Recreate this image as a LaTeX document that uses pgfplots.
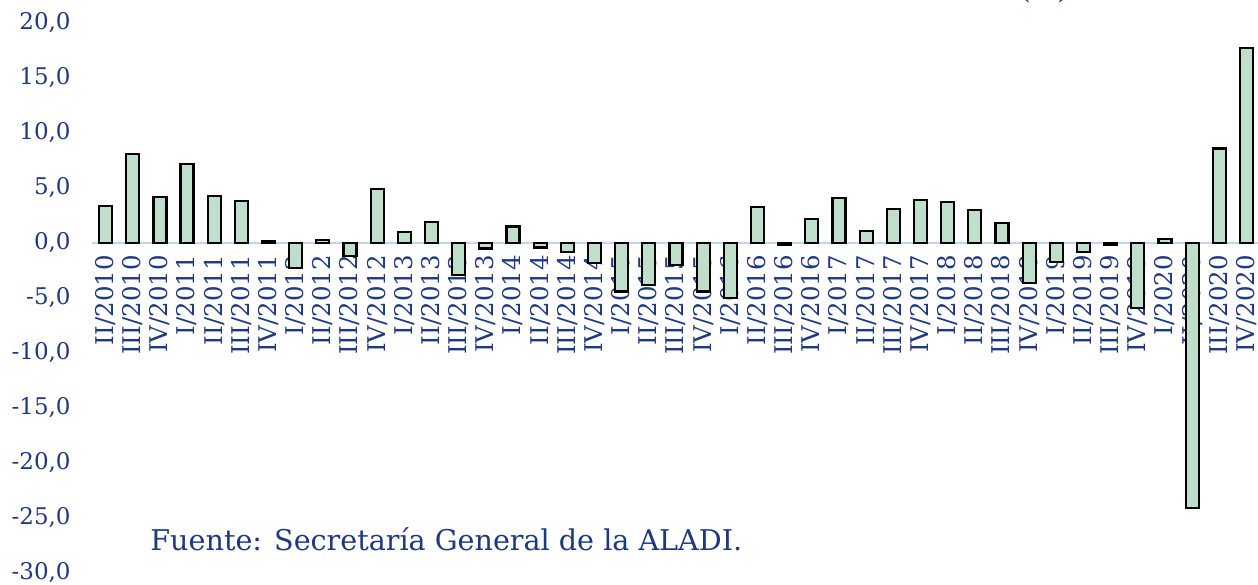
\documentclass[border=0pt]{standalone}
\usepackage{fontspec}
\setmainfont{DejaVu Serif}
\usepackage{pgfplots}
\pgfplotsset{compat=1.18}
\definecolor{navy}{RGB}{31,56,130}
\definecolor{barfill}{RGB}{192,222,204}
\definecolor{zeroline}{RGB}{196,212,243}
\pgfplotstableread{
x y
0 3.4
1 8.1
2 4.2
3 7.2
4 4.3
5 3.8
6 0.2
7 -2.3
8 0.3
9 -1.2
10 4.9
11 1.0
12 1.9
13 -2.9
14 -0.5
15 1.5
16 -0.4
17 -0.8
18 -1.8
19 -4.4
20 -3.8
21 -2.0
22 -4.4
23 -5.0
24 3.3
25 -0.2
26 2.2
27 4.1
28 1.1
29 3.1
30 3.9
31 3.7
32 3.0
33 1.8
34 -3.6
35 -1.7
36 -0.8
37 -0.2
38 -5.9
39 0.4
40 -24.1
41 8.6
42 17.7
}\datatable
\begin{document}
\begin{tikzpicture}
\path[use as bounding box] (-46pt,-5.5pt) rectangle (583pt,286.5pt);
\begin{axis}[
  at={(0,0)}, anchor=south west,
  scale only axis, width=584pt, height=275pt,
  xmin=-0.5, xmax=42.5, ymin=-30, ymax=20,
  axis x line=middle, axis y line=left,
  hide obscured x ticks=false, hide obscured y ticks=false,
  x axis line style={-, draw=zeroline, line width=1pt},
  y axis line style={draw=none},
  ytick={-30,-25,...,20},
  xtick=data,
  xticklabels={II/2010,III/2010,IV/2010,I/2011,II/2011,III/2011,IV/2011,I/2012,II/2012,III/2012,IV/2012,I/2013,II/2013,III/2013,IV/2013,I/2014,II/2014,III/2014,IV/2014,I/2015,II/2015,III/2015,IV/2015,I/2016,II/2016,III/2016,IV/2016,I/2017,II/2017,III/2017,IV/2017,I/2018,II/2018,III/2018,IV/2018,I/2019,II/2019,III/2019,IV/2019,I/2020,II/2020,III/2020,IV/2020},
  major tick length=0pt,
  tick style={draw=none},
  yticklabel style={font=\fontsize{11.5}{13}\selectfont, text=navy, anchor=east, inner sep=0pt, xshift=-10.5pt,
    /pgf/number format/fixed, /pgf/number format/fixed zerofill, /pgf/number format/precision=1,
    /pgf/number format/use comma, /pgf/number format/assume math mode=true},
  xticklabel style={font=\fontsize{12.2}{14}\selectfont, text=navy, yshift=-6pt, rotate=90, anchor=east, inner sep=0pt},
  ybar, bar width=6.5pt,
  clip=false,
]
\addplot[draw=black, line width=1.1pt, fill=barfill] table[x=x,y=y] {\datatable};
\end{axis}
\node[anchor=base, text=navy, font=\fontsize{14}{16}\selectfont] at (476pt,287pt) {(\%)};
\node[anchor=base west, text=navy, font=\fontsize{14.3}{16}\selectfont, inner sep=0pt] at (29pt,11.5pt) {Fuente: Secretaría General de la ALADI.};
\end{tikzpicture}
\end{document}
